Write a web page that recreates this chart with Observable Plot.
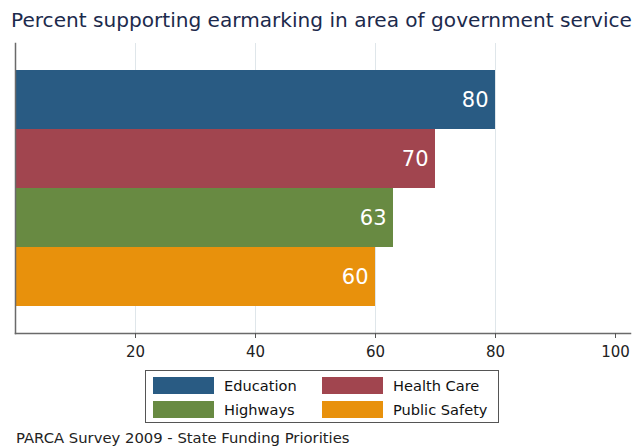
<!DOCTYPE html>
<html>
<head>
<meta charset="utf-8">
<script src="https://cdn.jsdelivr.net/npm/d3@7"></script>
<script src="https://cdn.jsdelivr.net/npm/@observablehq/plot@0.6"></script>
<style>
  html, body { margin: 0; padding: 0; background: #fff; }
  body { width: 639px; height: 447px; overflow: hidden; font-family: "DejaVu Sans", sans-serif; position: relative; }
  #title { position: absolute; left: 11px; top: 8px; font-size: 20.1px; color: #1c2a4c; white-space: nowrap; }
  #chart { position: absolute; left: 0; top: 40px; }
  #legend { position: absolute; left: 145px; top: 370px; width: 354px; height: 53px; border: 1px solid #555; box-sizing: border-box; }
  .item { position: absolute; display: flex; align-items: center; font-size: 14.6px; color: #111; }
  .sw { width: 61px; height: 17px; margin-right: 10px; }
  #caption { position: absolute; left: 16px; top: 429px; font-size: 14.8px; color: #222; white-space: nowrap; }
</style>
</head>
<body>
<div id="title">Percent supporting earmarking in area of government service</div>
<div id="chart"></div>
<div id="legend"></div>
<div id="caption">PARCA Survey 2009 - State Funding Priorities</div>
<script>
const categories = ["Education", "Health Care", "Highways", "Public Safety"];
const values = [80, 70, 63, 60];
const colors = ["#295b83", "#a1454f", "#688a42", "#e8910c"];
const xTicks = [20, 40, 60, 80, 100];
const gridTicks = [20, 40, 60, 80];

const data = categories.map((c, i) => ({category: c, value: values[i]}));

const plot = Plot.plot({
  width: 639,
  height: 325,
  marginLeft: 15,
  marginRight: 9,
  marginTop: 3,
  marginBottom: 32,
  style: {fontFamily: "DejaVu Sans, sans-serif", background: "transparent"},
  x: {domain: [0, 102.5], ticks: xTicks, label: null},
  y: {domain: categories, paddingInner: 0, paddingOuter: 0.44, axis: null},
  color: {domain: categories, range: colors},
  marks: [
    Plot.gridX(gridTicks, {stroke: "#dfe6ea", strokeOpacity: 1, strokeWidth: 1}),
    Plot.barX(data, {x: "value", y: "category", fill: "category", inset: 0}),
    Plot.text(data, {x: "value", y: "category", text: d => String(d.value), textAnchor: "end", dx: -7, fill: "white", fontSize: 21}),
    Plot.frame({anchor: "left", stroke: "#6a6a6a", strokeWidth: 1.5}),
    Plot.frame({anchor: "bottom", stroke: "#6a6a6a", strokeWidth: 1.5}),
    Plot.axisX({ticks: xTicks, tickSize: 5, tickPadding: 8, fontSize: 15, stroke: "#555", color: "#222", label: null})
  ]
});
document.getElementById("chart").appendChild(plot);

const legend = document.getElementById("legend");
const pos = [[7, 6], [176, 6], [7, 30], [176, 30]];
categories.forEach((c, i) => {
  const it = document.createElement("div");
  it.className = "item";
  it.style.left = pos[i][0] + "px";
  it.style.top = pos[i][1] + "px";
  const sw = document.createElement("div");
  sw.className = "sw";
  sw.style.background = colors[i];
  const t = document.createElement("span");
  t.textContent = c;
  it.appendChild(sw);
  it.appendChild(t);
  legend.appendChild(it);
});
</script>
</body>
</html>
